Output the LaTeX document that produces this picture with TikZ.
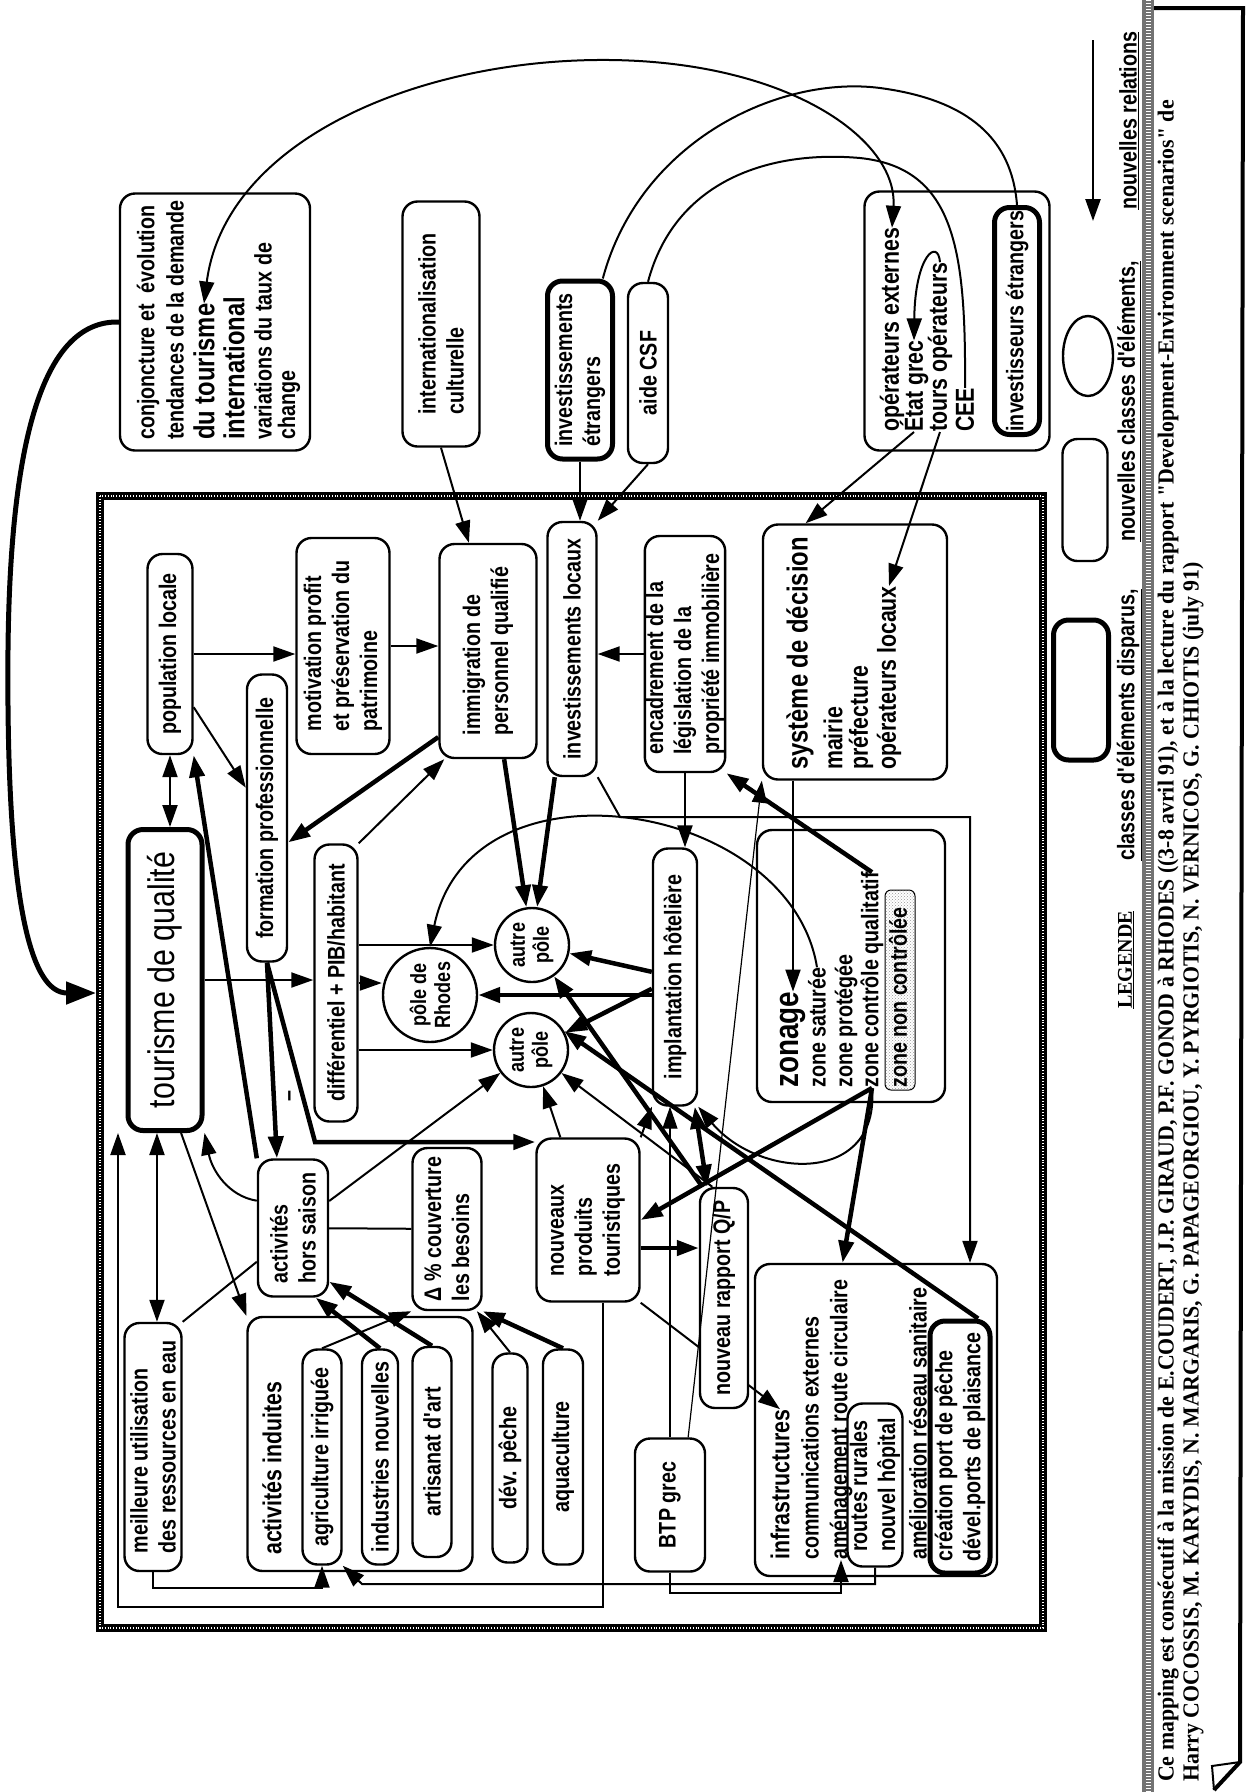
\documentclass[tikz,border=0pt]{standalone}
\usepackage{fontspec}
\usetikzlibrary{arrows.meta,shapes.geometric,patterns}
\newfontfamily\boxfont[FakeStretch=0.82]{Liberation Sans}
\newfontfamily\credfont[FakeStretch=0.95]{Liberation Serif}
\newcommand{\boxtxt}{\boxfont\bfseries\fontsize{24}{28}\selectfont}
\newcommand{\largetxt}{\boxfont\bfseries\fontsize{26}{29}\selectfont}
\newcommand{\midtxt}{\boxfont\bfseries\fontsize{29}{31}\selectfont}
\newcommand{\bigtxt}{\boxfont\fontsize{37}{40}\selectfont}
\newcommand{\poletxt}{\boxfont\bfseries\fontsize{22}{24}\selectfont}
\newcommand{\credtxt}{\credfont\bfseries\fontsize{23}{26}\selectfont}
\tikzset{
  box/.style={draw, line width=2.4pt, rounded corners=15pt, rotate=90, fill=white,
    align=left, inner sep=1pt, font=\boxtxt},
  thickbox/.style={box, line width=5pt},
  pole/.style={draw, circle, line width=2.4pt, rotate=90, fill=white, align=center,
    inner sep=0pt, font=\poletxt},
  ln/.style={rotate=90, anchor=west, inner sep=0pt, font=\boxtxt},
  rel/.style={->, line width=2pt},
  relb/.style={->, line width=4.5pt},
  relthin/.style={->, line width=1.2pt},
  link/.style={line width=2pt},
  rope/.style={line width=8pt, postaction={draw=white, line width=2.5pt, dash pattern=on 1pt off 1.8pt}}
}
\begin{document}
\begin{tikzpicture}[x=1pt, y=-1pt, >={Triangle[length=22pt,width=15pt]}]
\fill[white] (0,0) rectangle (1250,1792);
\useasboundingbox (0,0) rectangle (1250,1792);

\draw[rope] (100,496) rectangle (1043,1628);

\node[box, minimum width=257pt, minimum height=190pt] (conj) at (215,322) {};
\node[ln] (c1) at (148,440) {conjoncture et\ \ évolution};
\node[ln] (c2) at (175,440) {tendances de la demande};
\node[ln, font=\midtxt] (c3) at (204,440) {du tourisme};
\node[ln, font=\midtxt] (c4) at (234,440) {international};
\node[ln] (c5) at (263,440) {variations du taux de};
\node[ln] (c6) at (289,440) {change};
\node[box, minimum width=245pt, minimum height=77pt] (intcult) at (441,324) {internationalisation\\culturelle};
\node[thickbox, minimum width=178pt, minimum height=65pt] (invetr) at (580,370) {investissements\\étrangers};
\node[box, minimum width=180pt, minimum height=40pt] (csf) at (648,373) {aide CSF};
\node[box, minimum width=259pt, minimum height=185pt] (oper) at (957,321) {};
\node[ln, font=\largetxt] (opext) at (892,432) {opérateurs externes};
\node[ln, font=\largetxt] (etat) at (914,432) {État grec};
\node[ln, font=\largetxt] (tours) at (940,432) {tours opérateurs};
\node[ln, font=\largetxt] (cee) at (965,432) {CEE};
\node[thickbox, minimum width=227pt, minimum height=45pt] (invstr) at (1017,321) {investisseurs étrangers};

\node[box, minimum width=200pt, minimum height=45pt] (pop) at (170,654) {population locale};
\node[box, minimum width=216pt, minimum height=93pt] (motiv) at (343,646) {motivation profit\\et préservation du\\patrimoine};
\node[box, minimum width=287pt, minimum height=40pt] (form) at (267,818) {formation professionnelle};
\node[box, minimum width=214pt, minimum height=97pt] (immig) at (488,651) {immigration de\\personnel qualifié};
\node[box, minimum width=254pt, minimum height=49pt] (invloc) at (572,649) {investissements locaux};
\node[box, minimum width=236pt, minimum height=80pt] (enc) at (685,654) {encadrement de la\\législation de la\\propriété immobilière};
\node[box, minimum width=255pt, minimum height=184pt] (syst) at (855,652) {};
\node[ln, font=\midtxt] (s1) at (800,770) {système de décision};
\node[ln, font=\largetxt] (s2) at (833,770) {mairie};
\node[ln, font=\largetxt] (s3) at (861,770) {préfecture};
\node[ln, font=\largetxt] (s4) at (889,770) {opérateurs locaux};

\node[thickbox, minimum width=301pt, minimum height=74pt, font=\bigtxt] (tour) at (165,980) {tourisme de qualité};
\node[box, minimum width=277pt, minimum height=43pt] (diff) at (336,983) {différentiel + PIB/habitant};
\node[pole, minimum size=94pt] (rhodes) at (430,995) {pôle de\\Rhodes};
\node[pole, minimum size=74pt] (autre1) at (532,945) {autre\\pôle};
\node[pole, minimum size=74pt] (autre2) at (531,1050) {autre\\pôle};
\node[box, minimum width=257pt, minimum height=44pt] (impl) at (675,977) {implantation hôtelière};
\node[box, minimum width=272pt, minimum height=188pt] (zonbox) at (851,966) {};
\node[draw, line width=1pt, rounded corners=6pt, rotate=90, pattern=crosshatch dots, pattern color=black!40, minimum width=200pt, minimum height=30pt] (znonbox) at (900,990) {};
\node[ln, font={\boxfont\bfseries\fontsize{34}{36}\selectfont}] (zonage) at (793,1088) {zonage};
\node[ln] (zsat) at (817,1088) {zone saturée};
\node[ln] (zprot) at (846,1088) {zone protégée};
\node[ln] (zctrl) at (872,1088) {zone contrôle qualitatif};
\node[ln] (znon) at (898,1088) {zone non contrôlée};

\node[box, minimum width=137pt, minimum height=70pt] (actv) at (293,1228) {activités\\hors saison};
\node[box, minimum width=162pt, minimum height=69pt] (delta) at (447,1229) {Δ \% couverture\\les besoins};
\node[box, minimum width=163pt, minimum height=103pt] (nouv) at (588,1220) {nouveaux\\produits\\touristiques};
\node[box, minimum width=248pt, minimum height=57pt] (meil) at (153,1447) {meilleure utilisation\\des ressources en eau};
\node[box, minimum width=254pt, minimum height=225pt] (actind) at (360,1444) {};
\node[ln, font=\largetxt] (actindl) at (272,1555) {activités induites};
\node[box, minimum width=215pt, minimum height=39pt] (agri) at (322,1457) {agriculture irriguée};
\node[box, minimum width=215pt, minimum height=36pt] (indus) at (380,1457) {industries nouvelles};
\node[box, minimum width=210pt, minimum height=39pt] (artis) at (432,1452) {artisanat d'art};
\node[box, minimum width=209pt, minimum height=35pt] (peche) at (510,1458) {dév. pêche};
\node[box, minimum width=215pt, minimum height=40pt] (aqua) at (563,1457) {aquaculture};
\node[box, minimum width=133pt, minimum height=70pt] (btp) at (670,1505) {BTP grec};
\node[box, minimum width=312pt, minimum height=242pt] (infra) at (876,1420) {};
\node[ln, font=\largetxt] (inf1) at (780,1560) {infrastructures};
\node[ln] (inf2) at (810,1560) {communications externes};
\node[box, minimum width=163pt, minimum height=55pt] (rout) at (875,1485) {routes rurales\\nouvel hôpital};
\node[ln] (amen) at (841,1560) {aménagement route circulaire};
\node[thickbox, minimum width=252pt, minimum height=60pt] (creat) at (960,1447) {création port de pêche\\dével.ports de plaisance};
\node[ln] (amel) at (918,1560) {amélioration réseau sanitaire};

\coordinate (sysin) at (96,993);
\coordinate (k1) at (620,817);
\coordinate (k2) at (970,817);
\coordinate (k3) at (315,1142);
\coordinate (k4) at (118,1607);
\coordinate (k5) at (362,1584);

\draw[rel] (nouv.south west) -- (inf1.east);
\node[box, minimum width=220pt, minimum height=48pt] (rapport) at (724,1298) {nouveau rapport Q/P};

\draw[<->, line width=2pt] (c3.east) .. controls (225,140) and (420,58) .. (610,60) .. controls (790,62) and (898,140) .. (opext.east);
\draw[link] (invetr.-14) .. controls (640,140) and (780,75) .. (880,88) .. controls (970,100) and (1012,140) .. (invstr.east);
\draw[link] (csf.east) .. controls (675,180) and (770,150) .. (860,158) .. controls (955,168) and (966,250) .. (cee.east);
\draw[rel] (tours.east) .. controls (938,238) and (915,255) .. (etat.east);
\draw[rel] (etat.west) -- (syst.21);
\draw[rel] (tours.west) -- (s4.east);
\draw[rel] (intcult.west) -- (immig.10);
\draw[rel] (invetr.west) -- (invetr.west |- invloc.east);
\draw[rel] (csf.west) -- (invloc.south east);
\draw[->, line width=5pt, >={Triangle[length=30pt,width=22pt]}] (conj.north) .. controls (40,320) and (10,450) .. (8,650) .. controls (6,900) and (30,993) .. (sysin);

\draw[<->, line width=2pt] (pop.west) -- (pop.west |- tour.east);
\draw[rel] (pop.south) -- (pop.south -| motiv.north);
\draw[rel] (pop.204) -- (form.35);
\draw[rel] (motiv.south) -- (motiv.south -| immig.north);
\draw[relb] (immig.150) -- (form.-139);
\draw[rel] (diff.south east) -- (immig.158);
\draw[rel] (tour.south) -- (tour.south -| diff.north);
\draw[rel] (diff.south) -- (diff.south -| rhodes.north);
\draw[rel] (autre1 -| diff.south) -- (autre1);
\draw[rel] (autre2 -| diff.south) -- (autre2);
\draw[relb] (immig) -- (autre1);
\draw[relb] (invloc) -- (autre1);
\draw[rel] (enc.north) -- (enc.north -| invloc.south);
\draw[rel] (enc.west) -- (enc.west |- impl.east);
\draw[rel] (invloc.south west) -- (k1) -- (k2) -- (k2 |- infra.east);
\draw[relb] (zctrl.east) -- (enc.south west);
\draw[rel] (zonage.east |- syst.west) -- (zonage.east);
\draw[rel] (zsat.east) .. controls (790,800) and (470,750) .. (rhodes.east);
\draw[relb] (impl) -- (autre1);
\draw[relb] (rhodes -| impl.north) -- (rhodes);
\draw[relb] (impl) -- (autre2);
\draw[rel] (nouv) -- (autre2);
\draw[rel] (nouv.south east) -- (impl.north west);
\draw[relb] (nouv.-118) -- (nouv.-118 -| rapport.north);
\draw[<->, line width=4.5pt] (impl) -- (rapport);
\draw[relb] (rapport.11) -- (autre1);
\draw[rel] (rapport.6) -- (autre2);
\draw[relb] (creat.-8) -- (autre2.-60);
\draw[relb] (zctrl.west) -- (nouv.south);
\draw[relb] (zctrl.west) -- (infra.12);
\draw[rel] (zctrl.west) .. controls (880,1185) and (760,1180) .. (impl.south west);
\draw[relthin] (btp.-15) -- (syst.north west);
\draw[relthin] (btp.east) -- (btp.east |- impl.west);

\draw[relb] (form.west) -- (actv.13);
\node[rotate=90, font=\boxtxt, inner sep=0pt] (moins) at (292,1096) {\textendash};
\draw[relb] (form.west) -- (k3) -- (k3 -| nouv.north);
\draw[relb] (actv.north east) -- (pop.south west);
\draw[rel] (actv.53) .. controls (228,1196) and (212,1170) .. (tour.south west);
\draw[rel] (tour.-174) -- (actind.north east);
\draw[<->, line width=2pt] (tour.177) -- (tour.177 |- meil.east);
\draw[rel] (nouv.-170) |- (k4) -- (k4 |- tour.west);
\draw[rel] (meil.west) -- ++(0,16) -| (agri.west);
\draw[relb] (indus.east) -- (actv.-162);
\draw[relb] (artis.east) -- (actv.-146);
\draw[rel] (agri.east) -- (delta.north west);
\draw[rel] (peche.east) -- (delta.-160);
\draw[relb] (aqua.east) -- (delta.south west);
\draw[rel] (actv) -- (autre2);
\draw[link] (actv) -- (delta);
\draw[link] (actv.133) -- (meil.south east);
\draw[rel] (btp.west) -- ++(0,20) -| (amen.west);
\draw[rel] (rout.west) |- (k5) -- (agri.south west);

\coordinate (lga) at (1093,40);
\coordinate (lgb) at (1093,221);
\draw[->, line width=2.5pt] (lga) -- (lgb);
\node[draw, ellipse, line width=2.4pt, rotate=90, minimum width=80pt, minimum height=50pt] (lgcirc) at (1088,356) {};
\node[box, minimum width=122pt, minimum height=45pt] (lgnew) at (1085,500) {};
\node[thickbox, minimum width=140pt, minimum height=55pt] (lgold) at (1081,690) {};
\node[ln, font={\credfont\bfseries\fontsize{21}{24}\selectfont}] (lgtitle) at (1126,1009) {\underline{LEGENDE}};
\node[ln] (lgdisp) at (1129,861) {\underline{classes d'éléments disparus,}};
\node[ln] (lgnouv) at (1129,542) {\underline{nouvelles classes d'éléments,}};
\node[ln] (lgrel) at (1129,210) {\underline{nouvelles relations}};

\draw[line width=12pt, black!55, postaction={draw=white, line width=5pt, dash pattern=on 1pt off 2pt}] (1148,0) -- (1148,1792);
\draw[line width=4pt] (1154,8) -- (1243,8) -- (1240,1762) -- (1214,1790);
\draw[line width=2pt] (1214,1790) -- (1212,1766) -- (1240,1762);
\node[ln, font=\credtxt] (cr1) at (1168,1782) {Ce mapping est consécutif à la mission de E.COUDERT, J.P. GIRAUD, P.F. GONOD à RHODES ((3-8 avril 91), et à la lecture du rapport "Development-Environment scenarios" de};
\node[ln, font=\credtxt] (cr2) at (1193,1782) {Harry COCOSSIS, M. KARYDIS, N. MARGARIS, G. PAPAGEORGIOU, Y. PYRGIOTIS, N. VERNICOS, G. CHIOTIS (july 91)};
\end{tikzpicture}
\end{document}
